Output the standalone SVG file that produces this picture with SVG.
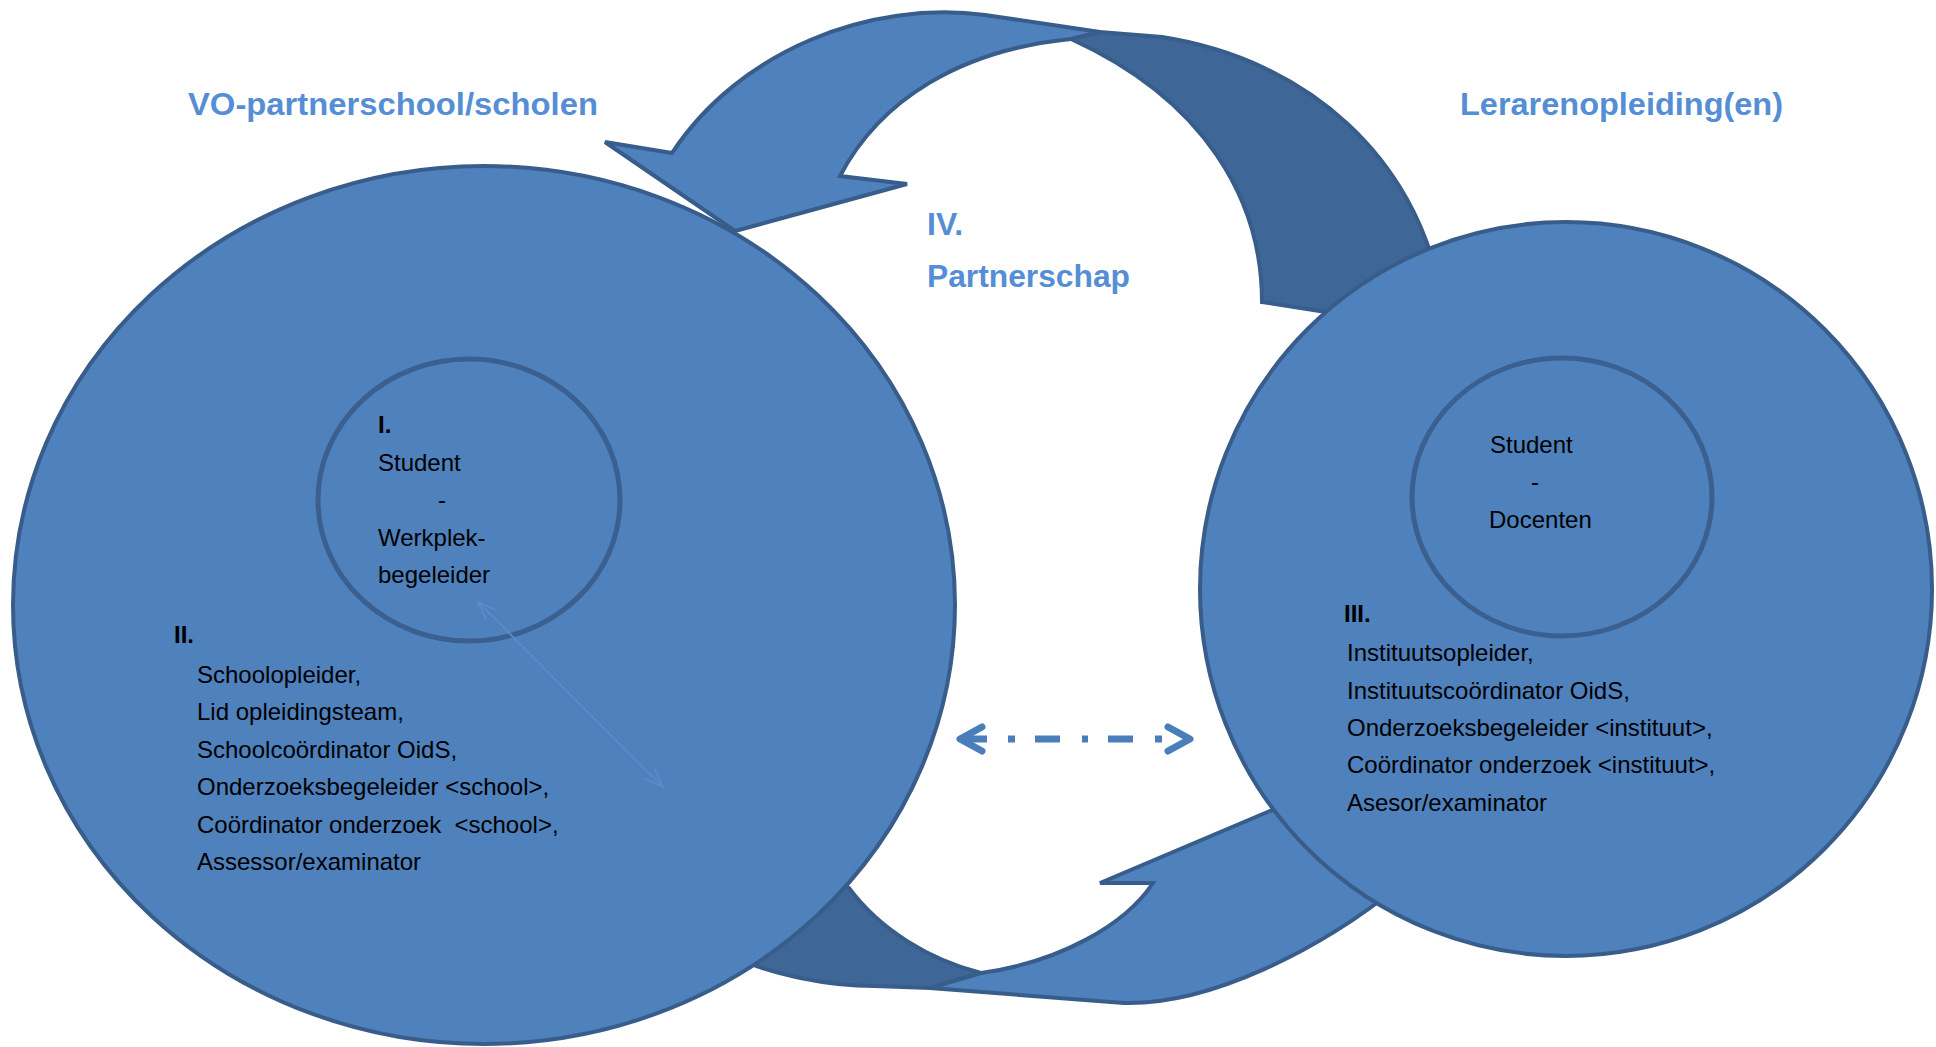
<svg xmlns="http://www.w3.org/2000/svg" width="1936" height="1047" viewBox="0 0 1936 1047">
<style>
.front{fill:#4F81BD;stroke:#385D8A;stroke-width:4;stroke-linejoin:miter}
.back{fill:#3E6797;stroke:#385D8A;stroke-width:4;stroke-linejoin:miter}
.blob{fill:#4F81BD;stroke:#385D8A;stroke-width:4}
.inner{fill:#4F81BD;stroke:#3B5F8E;stroke-width:5}
.title{font-family:'Liberation Sans',Arial,sans-serif;font-weight:bold;font-size:32px;fill:#558ED5}
.body{font-family:'Liberation Sans',Arial,sans-serif;font-size:24px;fill:#000}
.num{font-weight:bold}
.dash{fill:none;stroke:#4A7EBB;stroke-width:7;stroke-dasharray:27 21 7 20 25 22 6 20 25 22 7 100}
.thin{fill:none;stroke:#5B8DCB;stroke-width:1.6}
</style>
<defs>
<marker id="chev" viewBox="-27 -16 32 32" refX="0" refY="0" markerWidth="32" markerHeight="32" markerUnits="userSpaceOnUse" orient="auto-start-reverse">
<path d="M -22,-12 L 0,0 L -22,12" fill="none" stroke="#4A7EBB" stroke-width="7" stroke-linecap="round" stroke-linejoin="round"/>
</marker>
<marker id="open" viewBox="-22 -10 24 20" refX="0" refY="0" markerWidth="24" markerHeight="20" markerUnits="userSpaceOnUse" orient="auto-start-reverse">
<path d="M -19,-7 L 0,0 L -19,7" fill="none" stroke="#5B8DCB" stroke-width="1.6"/>
</marker>
</defs>
<rect width="1936" height="1047" fill="#FFFFFF"/>

<g id="cycle-arrows">
<g id="arrow-top">
<path class="back" d="M 1071,39 L 1100,32 L 1162,37 C 1310,60 1415,160 1440,290 L 1440,330 L 1262,302 C 1262,200 1205,100 1071,39 Z"/>
<path class="front" d="M 1100,32 L 985,15 C 870,0 740,50 672,153 L 605,142 L 735,231 L 907,184 L 840,176 C 880,100 960,50 1071,39 Z"/>
</g>
<g id="arrow-bottom">
<path class="back" d="M 981,973 C 930,960 880,930 849,888 L 800,860 L 730,955 C 770,975 830,986 874,986 L 930,988 Z"/>
<path class="front" d="M 1100,883 L 1400,756 L 1445,850 L 1400,885 C 1320,950 1210,1005 1124,1003 L 930,988 L 981,973 C 1060,962 1125,925 1153,883 Z"/>
</g>
</g>

<g id="node-vo-partnerschool">
<ellipse class="blob" cx="484" cy="605" rx="471" ry="439"/>
<text class="body num" x="174" y="643">II.</text>
<text class="body" x="197" y="683">Schoolopleider,</text>
<text class="body" x="197" y="720">Lid opleidingsteam,</text>
<text class="body" x="197" y="758">Schoolcoördinator OidS,</text>
<text class="body" x="197" y="795">Onderzoeksbegeleider &lt;school&gt;,</text>
<text class="body" x="197" y="833">Coördinator onderzoek&#160; &lt;school&gt;,</text>
<text class="body" x="197" y="870">Assessor/examinator</text>
</g>

<g id="node-student-werkplekbegeleider">
<ellipse class="inner" cx="469" cy="500" rx="151" ry="141"/>
<text class="body num" x="378" y="433">I.</text>
<text class="body" x="378" y="471">Student</text>
<text class="body" x="438" y="508">-</text>
<text class="body" x="378" y="546">Werkplek-</text>
<text class="body" x="378" y="583">begeleider</text>
</g>

<g id="node-lerarenopleiding">
<ellipse class="blob" cx="1566" cy="589" rx="366" ry="367"/>
<text class="body num" x="1344" y="622">III.</text>
<text class="body" x="1347" y="661">Instituutsopleider,</text>
<text class="body" x="1347" y="699">Instituutscoördinator OidS,</text>
<text class="body" x="1347" y="736">Onderzoeksbegeleider &lt;instituut&gt;,</text>
<text class="body" x="1347" y="773">Coördinator onderzoek &lt;instituut&gt;,</text>
<text class="body" x="1347" y="811">Asesor/examinator</text>
</g>

<g id="node-student-docenten">
<ellipse class="inner" cx="1562" cy="497" rx="150" ry="139"/>
<text class="body" x="1490" y="453">Student</text>
<text class="body" x="1531" y="490">-</text>
<text class="body" x="1489" y="528">Docenten</text>
</g>

<g id="labels">
<text class="title" x="188" y="115" textLength="410" lengthAdjust="spacingAndGlyphs">VO-partnerschool/scholen</text>
<text class="title" x="1460" y="115" textLength="323" lengthAdjust="spacingAndGlyphs">Lerarenopleiding(en)</text>
<text class="title" x="927" y="235">IV.</text>
<text class="title" x="927" y="287" textLength="203" lengthAdjust="spacingAndGlyphs">Partnerschap</text>
</g>

<g id="connectors">
<path class="dash" d="M 960,739 L 1190,739" marker-start="url(#chev)" marker-end="url(#chev)"/>
<path class="thin" d="M 478,602 L 663,787" marker-start="url(#open)" marker-end="url(#open)"/>
</g>
</svg>
